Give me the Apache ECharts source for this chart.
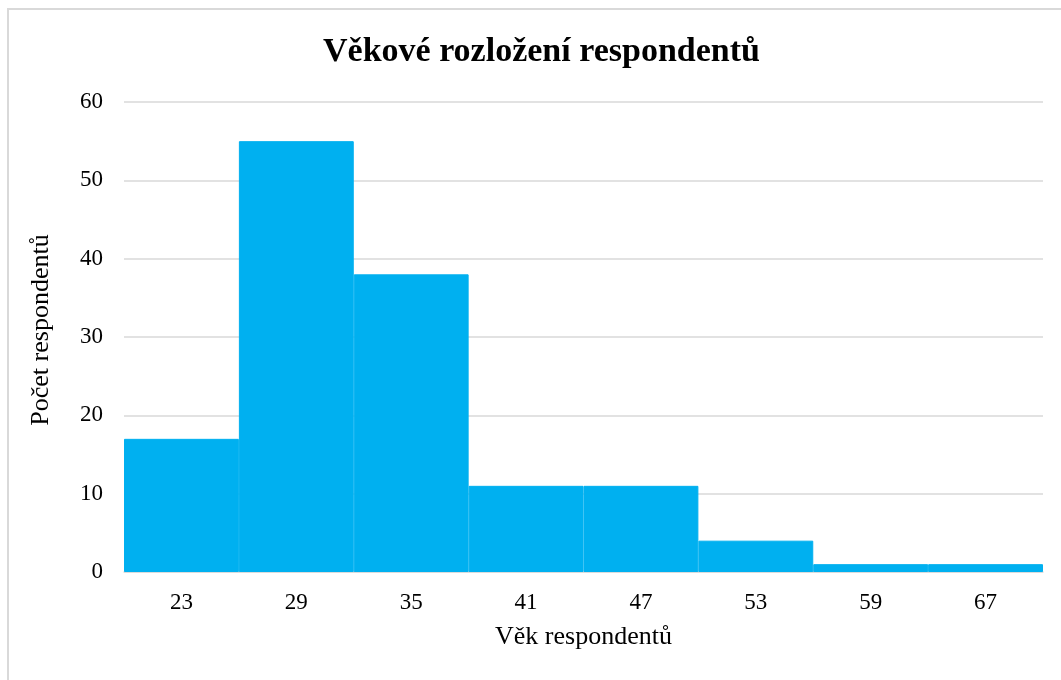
<!DOCTYPE html>
<html>
<head>
<meta charset="utf-8">
<script src="https://cdn.jsdelivr.net/npm/echarts@6/dist/echarts.min.js"></script>
<style>
  html, body { margin: 0; padding: 0; background: #fff; overflow: hidden; }
  #frame { position: absolute; left: 7px; top: 8px; width: 1100px; height: 720px; border: 2px solid #d9d9d9; box-sizing: border-box; }
  #chart { position: absolute; left: 0; top: 0; width: 1061px; height: 680px; }
</style>
</head>
<body>
<div id="frame"></div>
<div id="chart"></div>
<script>
  const ageGroups = ['23', '29', '35', '41', '47', '53', '59', '67']
  const counts = [17, 55, 38, 11, 11, 4, 1, 1]

  const serif = '"Liberation Serif", "DejaVu Serif", serif'

  const chart = echarts.init(document.getElementById('chart'))
  chart.setOption({
    animation: false,
    title: {
      text: 'Věkové rozložení respondentů',
      left: 318,
      top: 30,
      textStyle: { fontFamily: serif, fontSize: 34, fontWeight: 'bold', color: '#000' }
    },
    grid: { left: 124, right: 18, top: 102, bottom: 108 },
    xAxis: {
      type: 'category',
      data: ageGroups,
      name: 'Věk respondentů',
      nameLocation: 'middle',
      nameGap: 52,
      nameTextStyle: { fontFamily: serif, fontSize: 26, color: '#000' },
      axisLine: { lineStyle: { color: '#d9d9d9', width: 1.5 } },
      axisTick: { show: false },
      axisLabel: { fontFamily: serif, fontSize: 23, color: '#000', margin: 19 }
    },
    yAxis: {
      type: 'value',
      min: 0,
      max: 60,
      interval: 10,
      name: 'Počet respondentů',
      nameLocation: 'middle',
      nameGap: 70,
      nameTextStyle: { fontFamily: serif, fontSize: 26, color: '#000', padding: [0, 0, 0, 14] },
      axisLine: { show: false },
      axisTick: { show: false },
      axisLabel: { fontFamily: serif, fontSize: 23, color: '#000', margin: 21 },
      splitLine: { lineStyle: { color: '#d9d9d9', width: 1.5 } }
    },
    series: [
      {
        type: 'bar',
        data: counts,
        barCategoryGap: '0%',
        itemStyle: { color: '#00B0F0', borderColor: '#00B0F0', borderWidth: 1 }
      }
    ]
  })
</script>
</body>
</html>
